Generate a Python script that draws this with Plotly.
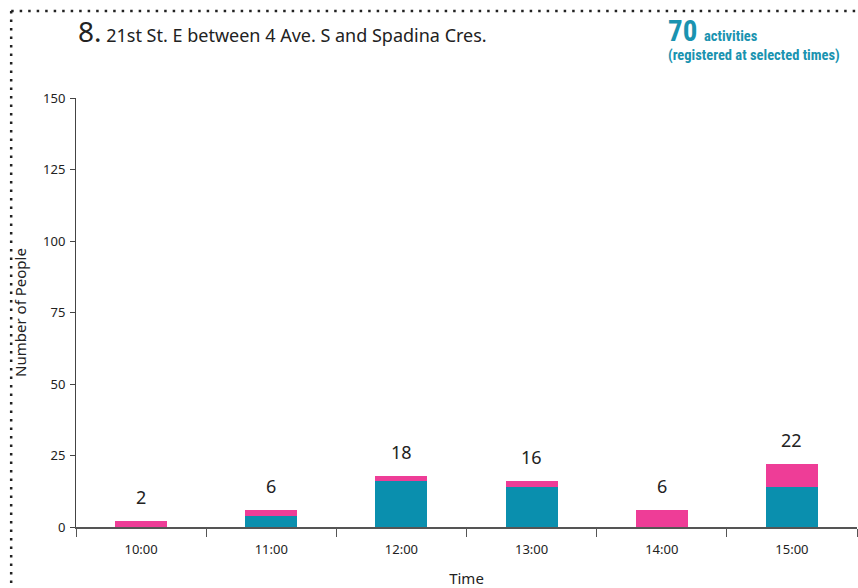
import plotly.graph_objects as go

# counts per hour, split in the two activity groups
times = ["10:00", "11:00", "12:00", "13:00", "14:00", "15:00"]
teal_counts = [0, 4, 16, 14, 0, 14]
pink_counts = [2, 2, 2, 2, 6, 8]
totals = [t + p for t, p in zip(teal_counts, pink_counts)]
y_ticks = [0, 25, 50, 75, 100, 125, 150]

TEAL = "#0a8fae"
PINK = "#ee3d97"
FONT = "Noto Sans"

fig = go.Figure()
fig.add_trace(go.Bar(x=times, y=teal_counts, marker_color=TEAL, marker_line_width=0,
                     width=0.4, hoverinfo="x+y"))
fig.add_trace(go.Bar(x=times, y=pink_counts, marker_color=PINK, marker_line_width=0,
                     width=0.4, hoverinfo="x+y"))

# total labels above each stack
for t, total in zip(times, totals):
    fig.add_annotation(x=t, y=total, text=str(total), showarrow=False,
                       yanchor="bottom", yshift=10,
                       font=dict(family=FONT, size=18, color="#222"))

# title and the activity count in the corner
fig.add_annotation(xref="paper", yref="paper", x=0, y=1, xanchor="left", yanchor="bottom",
                   yshift=46, showarrow=False,
                   text="<span style='font-size:28px'>8.</span> 21st St. E between 4 Ave. S and Spadina Cres.",
                   font=dict(family=FONT, size=18, color="#222"))
fig.add_annotation(xref="paper", yref="paper", x=0.755, y=1, xanchor="left", yanchor="bottom",
                   yshift=32, showarrow=False, align="left",
                   text="<b><span style='font-size:29px'>70</span>  activities</b><br>"
                        "<b>(registered at selected times)</b>",
                   font=dict(family="Roboto Condensed, Roboto", size=14.5, color="#1a93b0"))

# dotted frame at top and left
fig.add_shape(type="line", xref="paper", yref="paper", x0=-0.083, x1=1.02, y0=1.203, y1=1.203,
              line=dict(color="#222", width=2.5, dash="2.5px,6px"))
fig.add_shape(type="line", xref="paper", yref="paper", x0=-0.083, x1=-0.083, y0=1.203, y1=-0.2,
              line=dict(color="#222", width=2.5, dash="2.5px,6px"))

fig.update_layout(
    width=858, height=588,
    margin=dict(l=76, r=1, t=98, b=61),
    barmode="stack", bargap=0.6,
    showlegend=False,
    plot_bgcolor="white", paper_bgcolor="white",
    font=dict(family=FONT, size=13, color="#222"),
    xaxis=dict(
        title=dict(text="Time", font=dict(size=15), standoff=17),
        automargin=False,
        showline=True, linecolor="#555", linewidth=2,
        ticks="outside", tickson="boundaries", ticklen=8, tickcolor="#555",
        tickfont=dict(size=13), ticklabelstandoff=9, showgrid=False,
    ),
    yaxis=dict(
        title=dict(text="Number of People", font=dict(size=15), standoff=12),
        automargin=False,
        range=[0, 150], tickvals=y_ticks,
        showline=True, linecolor="#444", linewidth=1,
        ticks="outside", ticklen=5, tickcolor="#444",
        tickfont=dict(size=13), ticklabelstandoff=2, showgrid=False, zeroline=False,
    ),
)

# let the figure fill the window exactly, no page margin
fig.write_html("out.html", config={"displayModeBar": False},
               post_script="document.body.style.margin='0';document.body.style.overflow='hidden';")
